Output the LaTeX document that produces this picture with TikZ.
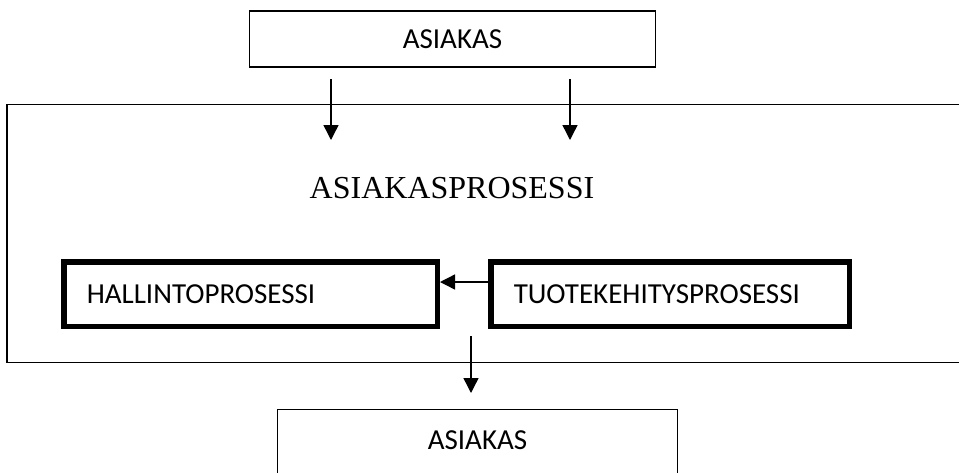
\documentclass[tikz,border=0pt]{standalone}
\usepackage{fontspec}
\setmainfont{Carlito}
\newfontfamily\otsikkofont{Liberation Serif}
\usetikzlibrary{positioning}
\usetikzlibrary{arrows.meta}

\begin{document}
\begin{tikzpicture}
    [x=0.5pt,y=-0.5pt,
     every node/.style={font=\fontsize{14.5pt}{17pt}\selectfont,inner sep=0pt}]

    \tikzstyle{box}     = [draw,line width=0.7pt]
    \tikzstyle{boldbox} = [draw,line width=2.75pt,inner xsep=11.5pt,
                           minimum height=32.25pt,align=left]
    \tikzstyle{title}   = [font=\otsikkofont\fontsize{16pt}{19pt}\selectfont]
    \tikzstyle{arrow}   = [-{Triangle[length=7.5pt,width=7.5pt]},line width=0.7pt]

    \useasboundingbox (0,0) rectangle (959,472);
    \clip (0,0) rectangle (959,472);

    \node [box,minimum width=479pt,minimum height=128.8pt] (frame) at (486,233.5) {} ;
    \node [box,minimum width=203pt,minimum height=28pt] (asiakas1) at (452.5,39) {ASIAKAS} ;
    \node [title] (prosessi) at (452,188.5) {ASIAKASPROSESSI} ;

    \node [boldbox,text width=163.75pt] (hallinto) at (250.5,294) {HALLINTOPROSESSI} ;
    \node [boldbox,text width=156.25pt,right=24pt of hallinto] (tuote) {TUOTEKEHITYSPROSESSI} ;

    \node [box,anchor=north,minimum width=200pt,text height=20pt,text depth=30pt]
          (asiakas2) at (477.5,409) {ASIAKAS} ;

    \coordinate (in1)  at (331,79) ;
    \coordinate (in1e) at (331,140) ;
    \coordinate (in2)  at (570,79) ;
    \coordinate (in2e) at (570,140) ;
    \coordinate (out)  at (471,336) ;
    \coordinate (oute) at (471,393) ;

    \draw [arrow] (in1) -- (in1e) ;
    \draw [arrow] (in2) -- (in2e) ;
    \draw [arrow] ([yshift=6pt]tuote.west) -- ([yshift=6pt]hallinto.east) ;
    \draw [arrow] (out) -- (oute) ;
\end{tikzpicture}
\end{document}
